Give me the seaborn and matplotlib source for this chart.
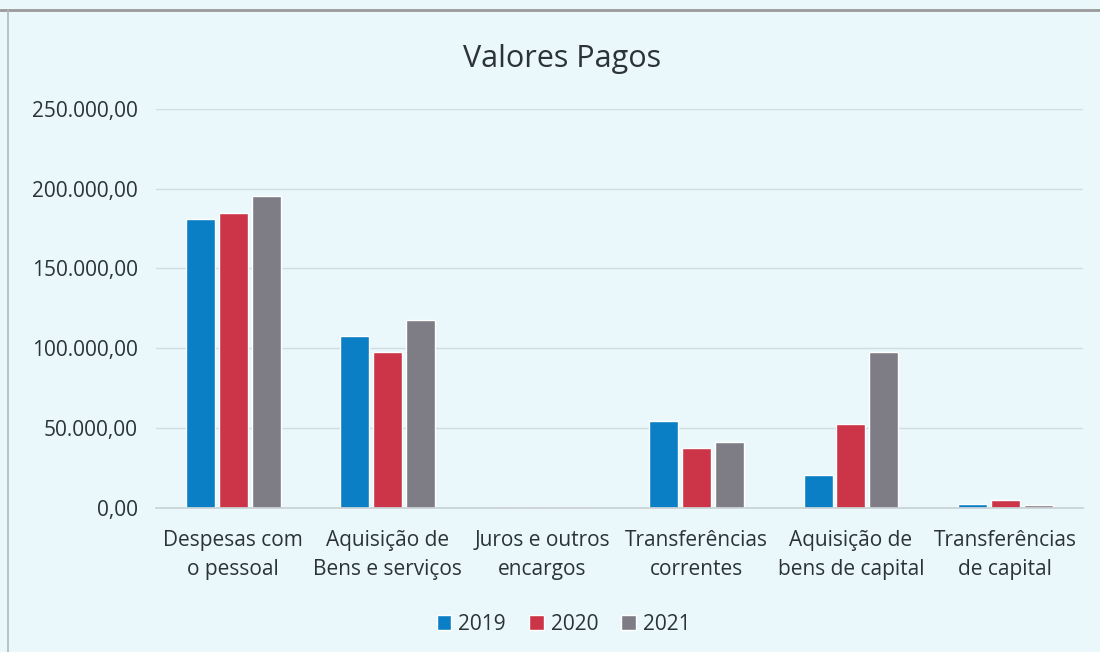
import pandas as pd
import seaborn as sns
import matplotlib.pyplot as plt
from matplotlib.ticker import FuncFormatter

categories = [
    "Despesas com\no pessoal",
    "Aquisição de\nBens e serviços",
    "Juros e outros\nencargos",
    "Transferências\ncorrentes",
    "Aquisição de\nbens de capital",
    "Transferências\nde capital",
]
years = ["2019", "2020", "2021"]
v2019 = [181300, 107700, 0, 54400, 20600, 2500]
v2020 = [185000, 97700, 0, 37300, 52300, 5000]
v2021 = [195600, 117500, 0, 41400, 97500, 2000]

data = pd.DataFrame({
    "categoria": categories * 3,
    "ano": [y for y in years for _ in categories],
    "valor": v2019 + v2020 + v2021,
})

bg = "#eaf8fb"
palette = {"2019": "#0b7fc5", "2020": "#cc3547", "2021": "#7e7d85"}

sns.set_theme(style="white")
plt.rcParams["font.family"] = ["Open Sans", "DejaVu Sans"]

fig = plt.figure(figsize=(11, 6.52), dpi=100, facecolor=bg)
ax = fig.add_axes([0.1418, 0.221, 0.8424, 0.612])
ax.set_facecolor(bg)

sns.barplot(
    data=data, x="categoria", y="valor", hue="ano",
    palette=palette, width=0.64, gap=0.12, saturation=1,
    ax=ax, legend=True,
)

ax.set_ylim(0, 250000)
ax.set_yticks(range(0, 250001, 50000))
ax.yaxis.set_major_formatter(FuncFormatter(
    lambda v, _: f"{v:,.2f}".replace(",", "X").replace(".", ",").replace("X", ".")))
ax.yaxis.grid(True, color="#d3dcdf", linewidth=1)
ax.set_axisbelow(True)
for s in ["left", "right", "top"]:
    ax.spines[s].set_visible(False)
ax.spines["bottom"].set_color("#c9d3d6")
ax.tick_params(axis="both", length=0, labelsize=15, colors="#2b3336")
ax.tick_params(axis="y", pad=13)
ax.tick_params(axis="x", pad=16)
for lbl in ax.get_xticklabels():
    lbl.set_linespacing(1.5)
ax.set_xlabel("")
ax.set_ylabel("")

fig.text(0.511, 0.91, "Valores Pagos", ha="center", va="center",
         fontsize=22, color="#2b3336")

ax.legend(loc="upper center", bbox_to_anchor=(0.44, -0.218), ncol=3,
          frameon=False, fontsize=15, handlelength=0.7, handleheight=0.7,
          columnspacing=1.1, handletextpad=0.35, labelcolor="#2b3336")

fig.add_artist(plt.Line2D([0.0, 1.0], [0.984, 0.984], color="#9a9a9a", linewidth=2))
fig.add_artist(plt.Line2D([0.007, 0.007], [0.0, 0.984], color="#b0b8ba", linewidth=1.2))

fig.savefig("out.png", dpi=100, facecolor=bg)
